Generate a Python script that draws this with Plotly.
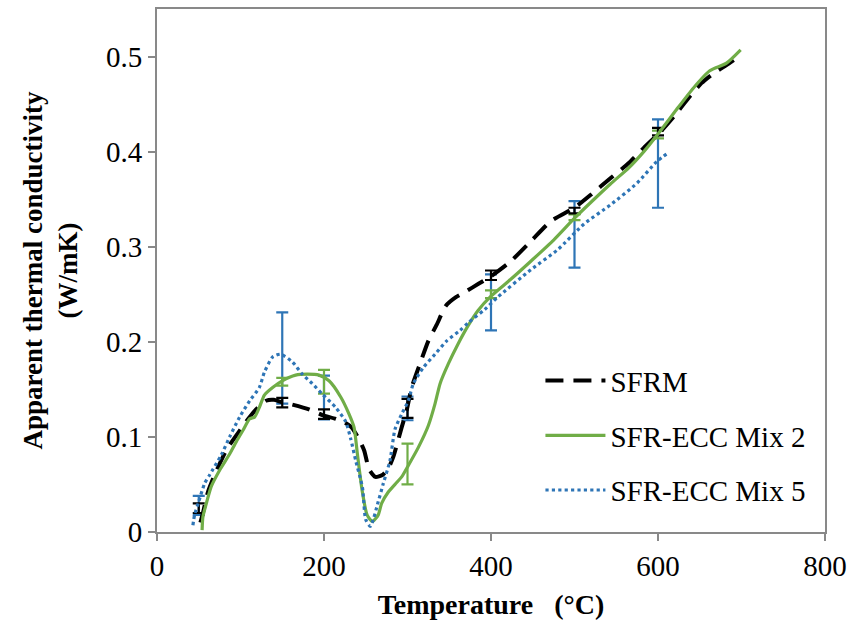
import plotly.graph_objects as go

# Temperature (°C) and apparent thermal conductivity (W/mK) curves
sfrm_T = [52, 55, 61, 70, 83, 97, 111, 122, 130.5, 140, 148, 162, 182, 198, 214, 225, 233,
          241, 248, 254, 261.5, 270, 277, 283, 293, 299, 305, 315, 325, 335, 346, 358,
          370, 385, 400, 424, 448, 472, 500, 520, 543, 565, 583, 603, 620, 638, 652,
          666, 682, 692]
sfrm_k = [0.010, 0.020, 0.042, 0.062, 0.086, 0.104, 0.121, 0.132, 0.138, 0.139, 0.137, 0.134,
          0.129, 0.123, 0.119, 0.115, 0.110, 0.099, 0.086, 0.066, 0.058, 0.060, 0.067,
          0.079, 0.110, 0.128, 0.152, 0.177, 0.201, 0.218, 0.238, 0.247, 0.253, 0.261,
          0.269, 0.285, 0.306, 0.327, 0.341, 0.355, 0.372, 0.388, 0.404, 0.421, 0.438,
          0.458, 0.472, 0.482, 0.491, 0.497]

mix2_T = [54, 55, 60, 65, 75, 87, 95, 103, 111, 117, 122.6, 128.6, 138.5, 150, 166, 180,
          194, 206, 220, 230, 236, 240, 245.6, 251.6, 258, 265, 269, 277, 287, 293, 301,
          313, 325, 333, 339, 349, 360.7, 372.6, 384.5, 400, 424, 448, 475, 500, 520,
          543, 565, 583, 603, 622, 642.5, 662, 682, 699]
mix2_k = [0.002, 0.016, 0.033, 0.048, 0.065, 0.082, 0.095, 0.107, 0.119, 0.121, 0.131,
          0.144, 0.152, 0.159, 0.165, 0.166, 0.165, 0.159, 0.142, 0.124, 0.110, 0.082,
          0.044, 0.018, 0.011, 0.018, 0.030, 0.042, 0.052, 0.058, 0.070, 0.089, 0.112,
          0.135, 0.156, 0.177, 0.198, 0.217, 0.233, 0.248, 0.266, 0.285, 0.307, 0.330,
          0.347, 0.366, 0.383, 0.400, 0.422, 0.444, 0.467, 0.485, 0.493, 0.507]

mix5_T = [43, 45, 50, 57, 63, 77, 87, 99, 111, 122.6, 128.6, 138.5, 148, 162, 174, 186,
          198, 214, 226, 232, 238, 246, 250, 255.6, 265, 271, 279, 285, 293, 301, 307,
          319, 333, 347, 363, 372.6, 392.5, 408, 448, 480, 511.5, 543, 575, 599, 612.7]
mix5_k = [0.007, 0.018, 0.032, 0.051, 0.060, 0.081, 0.100, 0.121, 0.138, 0.152, 0.168,
          0.184, 0.187, 0.179, 0.166, 0.156, 0.145, 0.131, 0.116, 0.098, 0.075, 0.047,
          0.013, 0.006, 0.032, 0.051, 0.075, 0.108, 0.124, 0.138, 0.156, 0.173, 0.187,
          0.201, 0.212, 0.220, 0.234, 0.247, 0.276, 0.297, 0.324, 0.344, 0.367, 0.390,
          0.399]

# Measurement points with error bars (mean ± spread)
err_T = [50, 150, 200, 300, 400, 500, 600]
sfrm_mean = [0.025, 0.136, 0.124, 0.130, 0.270, 0.338, 0.421]
sfrm_err = [0.005, 0.005, 0.005, 0.010, 0.005, 0.003, 0.004]
mix2_err_T = [150, 200, 300, 400, 500, 600]
mix2_mean = [0.158, 0.158, 0.0715, 0.250, 0.331, 0.418]
mix2_err = [0.004, 0.0125, 0.0215, 0.004, 0.003, 0.004]
mix5_mean = [0.028, 0.183, 0.1415, 0.130, 0.2415, 0.313, 0.3875]
mix5_err = [0.010, 0.048, 0.023, 0.0125, 0.0295, 0.035, 0.0465]

BLACK = "#000000"
GREEN = "#70AD47"
BLUE = "#2E75B6"
AXIS = "#898989"
FONT = "Times New Roman, Liberation Serif, serif"

fig = go.Figure()

# Error bars drawn first so the curves sit on top
fig.add_trace(go.Scatter(x=err_T, y=mix5_mean, mode="markers",
                         marker=dict(size=1, color="rgba(0,0,0,0)"),
                         error_y=dict(type="data", array=mix5_err, color=BLUE,
                                      thickness=2.2, width=6),
                         showlegend=False, hoverinfo="skip"))
fig.add_trace(go.Scatter(x=mix2_err_T, y=mix2_mean, mode="markers",
                         marker=dict(size=1, color="rgba(0,0,0,0)"),
                         error_y=dict(type="data", array=mix2_err, color=GREEN,
                                      thickness=2.2, width=6),
                         showlegend=False, hoverinfo="skip"))
fig.add_trace(go.Scatter(x=err_T, y=sfrm_mean, mode="markers",
                         marker=dict(size=1, color="rgba(0,0,0,0)"),
                         error_y=dict(type="data", array=sfrm_err, color=BLACK,
                                      thickness=2.2, width=6),
                         showlegend=False, hoverinfo="skip"))

fig.add_trace(go.Scatter(x=sfrm_T, y=sfrm_k, mode="lines", name="SFRM",
                         legendgroup="a",
                         line=dict(color=BLACK, width=4, dash="18px,10px",
                                   shape="spline", smoothing=0.6)))
fig.add_trace(go.Scatter(x=mix2_T, y=mix2_k, mode="lines", name="SFR-ECC Mix 2",
                         legendgroup="b",
                         line=dict(color=GREEN, width=3.2, shape="spline",
                                   smoothing=0.6)))
fig.add_trace(go.Scatter(x=mix5_T, y=mix5_k, mode="lines", name="SFR-ECC Mix 5",
                         legendgroup="c",
                         line=dict(color=BLUE, width=3.2, dash="dot",
                                   shape="spline", smoothing=0.6)))

fig.update_layout(
    width=854, height=626,
    margin=dict(l=157, r=25, t=7, b=94),
    paper_bgcolor="white", plot_bgcolor="white",
    font=dict(family=FONT, size=29, color="black"),
    showlegend=True,
    legend=dict(x=0.574, y=0.338, xanchor="left", yanchor="top",
                bgcolor="rgba(0,0,0,0)", font=dict(family=FONT, size=29),
                tracegroupgap=14, itemwidth=60),
    xaxis=dict(range=[0, 800], tickvals=[0, 200, 400, 600, 800],
               showline=True, linecolor=AXIS, linewidth=2, mirror=True,
               ticks="outside", ticklen=7, tickcolor=AXIS, tickwidth=1.5,
               showgrid=False, zeroline=False,
               tickfont=dict(family=FONT, size=29),
               title=dict(text="<b>Temperature   (°C)</b>",
                          font=dict(family=FONT, size=28), standoff=14)),
    yaxis=dict(range=[0, 0.55], tickvals=[0, 0.1, 0.2, 0.3, 0.4, 0.5],
               showline=True, linecolor=AXIS, linewidth=2, mirror=True,
               ticks="outside", ticklen=7, tickcolor=AXIS, tickwidth=1.5,
               showgrid=False, zeroline=False,
               tickfont=dict(family=FONT, size=29),
               title=dict(text="<b>Apparent thermal conductivity<br>(W/mK)</b>",
                          font=dict(family=FONT, size=27), standoff=20)),
)

fig.write_html("out.html")
